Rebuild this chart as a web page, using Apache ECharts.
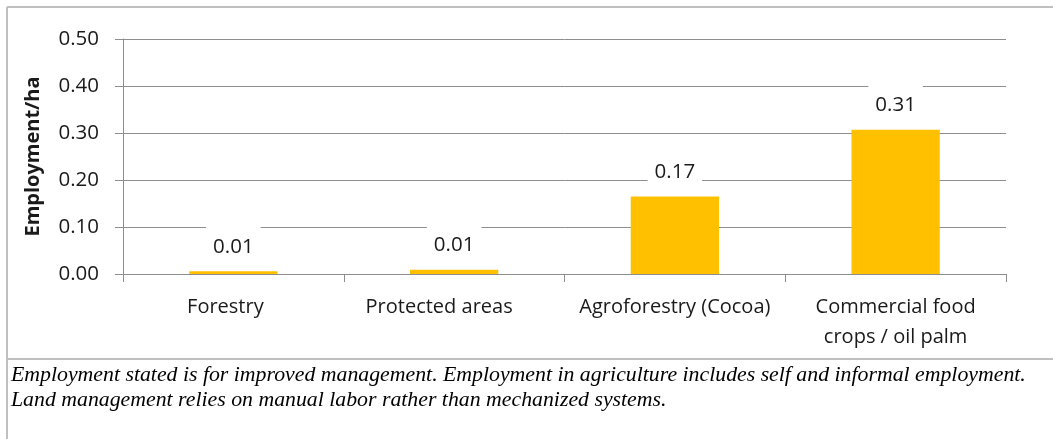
<!DOCTYPE html>
<html>
<head>
<meta charset="utf-8">
<script src="https://cdn.jsdelivr.net/npm/echarts@6/dist/echarts.min.js"></script>
<style>
html,body{margin:0;padding:0;background:#fff;}
#c{width:1053px;height:439px;}
</style>
</head>
<body>
<div id="c"></div>
<script>
const categories = ['Forestry', 'Protected areas', 'Agroforestry (Cocoa)', 'Commercial food\ncrops / oil palm'];
const values = [0.006, 0.009, 0.165, 0.307];
const yTicks = [0, 0.1, 0.2, 0.3, 0.4, 0.5];
const yAxisName = 'Employment/ha';
const captionLines = [
  'Employment stated is for improved management. Employment in agriculture includes self and informal employment.',
  'Land management relies on manual labor rather than mechanized systems.'
];

const textColor = '#1a1a1a';
const gridColor = '#8e8e8e';
const frameColor = '#bfbfbf';
const font = 'Open Sans';

const chart = echarts.init(document.getElementById('c'), null, {renderer: 'canvas'});
const catPads = [[0, 16, 0, 0], [0, 30, 0, 0], [0, 0, 0, 0], [0, 0, 0, 0]];

chart.setOption({
  animation: false,
  backgroundColor: '#fff',
  grid: {left: 123, right: 47, top: 39, bottom: 165, containLabel: false},
  xAxis: {
    type: 'category',
    data: categories.map((c, i) => ({value: c, textStyle: {padding: catPads[i]}})),
    axisLine: {show: true, lineStyle: {color: gridColor, width: 1}},
    axisTick: {show: true, length: 8, alignWithLabel: false, lineStyle: {color: gridColor}},
    axisLabel: {
      interval: 0, margin: 18, color: textColor, fontFamily: font, fontSize: 20,
      lineHeight: 30, align: 'center'
    },
    splitLine: {show: false}
  },
  yAxis: {
    type: 'value',
    min: yTicks[0], max: yTicks[yTicks.length - 1], interval: 0.1,
    name: yAxisName,
    nameLocation: 'middle',
    nameGap: 80,
    nameRotate: 90,
    nameTextStyle: {color: textColor, fontFamily: font, fontSize: 20, fontWeight: 'bold'},
    axisLine: {show: true, lineStyle: {color: gridColor, width: 1}},
    axisTick: {show: true, length: 8, inside: false, lineStyle: {color: gridColor}},
    axisLabel: {
      margin: 24, color: textColor, fontFamily: font, fontSize: 20.5,
      formatter: v => v.toFixed(2)
    },
    splitLine: {show: true, lineStyle: {color: gridColor, width: 1}}
  },
  series: [{
    type: 'bar',
    data: values,
    barCategoryGap: '60%',
    itemStyle: {color: '#FFC000'},
    z: 3,
    label: {
      show: true,
      position: 'top',
      distance: 10,
      color: textColor,
      fontFamily: font,
      fontSize: 20.5,
      backgroundColor: '#fff',
      padding: [11, 7, 4, 7],
      formatter: p => p.value.toFixed(2)
    }
  }],
  graphic: [
    {type: 'line', shape: {x1: 7, y1: 7, x2: 1053, y2: 7}, style: {stroke: frameColor, lineWidth: 2}, z: 10},
    {type: 'line', shape: {x1: 7, y1: 7, x2: 7, y2: 439}, style: {stroke: frameColor, lineWidth: 2}, z: 10},
    {type: 'line', shape: {x1: 7, y1: 359, x2: 1053, y2: 359}, style: {stroke: frameColor, lineWidth: 2}, z: 10},
    {type: 'text', left: 11, top: 364, style: {text: captionLines[0], fill: '#000', font: 'italic 21.8px "Liberation Serif"'}},
    {type: 'text', left: 11, top: 389, style: {text: captionLines[1], fill: '#000', font: 'italic 21.8px "Liberation Serif"'}}
  ]
});
</script>
</body>
</html>
